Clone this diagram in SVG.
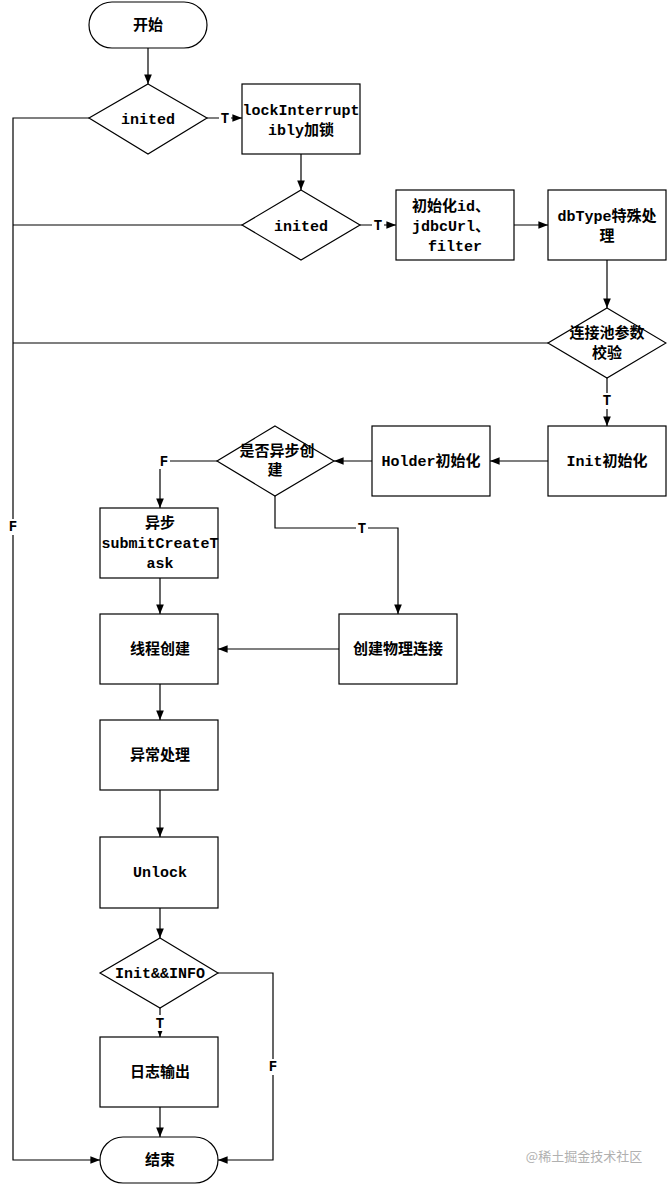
<svg xmlns="http://www.w3.org/2000/svg" width="667" height="1185" viewBox="0 0 667 1185">
<style>
.s{fill:#fff;stroke:#000;stroke-width:1.2}
.l{fill:none;stroke:#000;stroke-width:1.2}
text{font-family:"Liberation Mono","Noto Sans CJK SC",monospace;font-size:15px;font-weight:bold;text-anchor:middle;fill:#000}
.lb{font-size:14px}
</style>
<defs><marker id="a" viewBox="0 0 10 10" refX="10" refY="5" markerWidth="8" markerHeight="8" orient="auto"><path d="M0,1 L10,5 L0,9 z" fill="#000"/></marker></defs>
<rect width="667" height="1185" fill="#fff"/>
<g id="connectors">
<path class="l" d="M148,48 V84" marker-end="url(#a)"/>
<path class="l" d="M207,118 H242" marker-end="url(#a)"/>
<path class="l" d="M301,154 V190" marker-end="url(#a)"/>
<path class="l" d="M360,225 H396" marker-end="url(#a)"/>
<path class="l" d="M514,225 H548" marker-end="url(#a)"/>
<path class="l" d="M607,260 V308" marker-end="url(#a)"/>
<path class="l" d="M607,378 V426" marker-end="url(#a)"/>
<path class="l" d="M548,461 H490" marker-end="url(#a)"/>
<path class="l" d="M372,461 H334" marker-end="url(#a)"/>
<path class="l" d="M217,461 H160 V508" marker-end="url(#a)"/>
<path class="l" d="M275,496 V528 H398 V614" marker-end="url(#a)"/>
<path class="l" d="M160,578 V614" marker-end="url(#a)"/>
<path class="l" d="M339,649 H218" marker-end="url(#a)"/>
<path class="l" d="M160,684 V720" marker-end="url(#a)"/>
<path class="l" d="M160,790 V837" marker-end="url(#a)"/>
<path class="l" d="M160,908 V938" marker-end="url(#a)"/>
<path class="l" d="M160,1008 V1037" marker-end="url(#a)"/>
<path class="l" d="M160,1107 V1137" marker-end="url(#a)"/>
<path class="l" d="M218,973 H273 V1160 H218" marker-end="url(#a)"/>
<path class="l" d="M89,118 H13 V1160 H100" marker-end="url(#a)"/>
<path class="l" d="M242,225 H13"/>
<path class="l" d="M548,343 H13"/>
<g class="lb">
<rect x="219" y="110" width="12" height="16" fill="#fff"/><text x="225" y="123" class="lb">T</text>
<rect x="372" y="217" width="12" height="16" fill="#fff"/><text x="378" y="230" class="lb">T</text>
<rect x="601" y="393" width="12" height="16" fill="#fff"/><text x="607" y="405" class="lb">T</text>
<rect x="158" y="453" width="12" height="16" fill="#fff"/><text x="164" y="466" class="lb">F</text>
<rect x="356" y="520" width="12" height="16" fill="#fff"/><text x="362" y="533" class="lb">T</text>
<rect x="154" y="1015" width="12" height="16" fill="#fff"/><text x="160" y="1028" class="lb">T</text>
<rect x="7" y="519" width="12" height="16" fill="#fff"/><text x="13" y="531" class="lb">F</text>
<rect x="267" y="1059" width="12" height="16" fill="#fff"/><text x="273" y="1071" class="lb">F</text>
</g>
</g>
<g id="start"><rect class="s" x="89" y="2" width="118" height="46" rx="23"/><text x="148" y="30">开始</text></g>
<g id="inited1"><path class="s" d="M148,84 L207,118 L148,154 L89,118 Z"/><text x="148" y="124">inited</text></g>
<g id="lock"><rect class="s" x="242" y="84" width="118" height="70"/><text x="301" y="115">lockInterrupt</text><text x="301" y="135">ibly加锁</text></g>
<g id="inited2"><path class="s" d="M301,190 L360,225 L301,260 L242,225 Z"/><text x="301" y="231">inited</text></g>
<g id="initid"><rect class="s" x="396" y="190" width="118" height="70"/><text x="451" y="211">初始化id、</text><text x="451" y="231">jdbcUrl、</text><text x="455" y="251">filter</text></g>
<g id="dbtype"><rect class="s" x="548" y="190" width="118" height="70"/><text x="607" y="221">dbType特殊处</text><text x="607" y="241">理</text></g>
<g id="check"><path class="s" d="M607,308 L666,343 L607,378 L548,343 Z"/><text x="607" y="338">连接池参数</text><text x="607" y="358">校验</text></g>
<g id="init"><rect class="s" x="548" y="426" width="118" height="70"/><text x="607" y="466">Init初始化</text></g>
<g id="holder"><rect class="s" x="372" y="426" width="118" height="70"/><text x="431" y="466">Holder初始化</text></g>
<g id="async"><path class="s" d="M275,426 L334,461 L275,496 L217,461 Z"/><text x="277" y="456">是否异步创</text><text x="275" y="475">建</text></g>
<g id="submit"><rect class="s" x="100" y="508" width="118" height="70"/><text x="160" y="528">异步</text><text x="160" y="548">submitCreateT</text><text x="160" y="568">ask</text></g>
<g id="thread"><rect class="s" x="100" y="614" width="118" height="70"/><text x="160" y="654">线程创建</text></g>
<g id="phys"><rect class="s" x="339" y="614" width="118" height="70"/><text x="398" y="654">创建物理连接</text></g>
<g id="exc"><rect class="s" x="100" y="720" width="118" height="70"/><text x="160" y="760">异常处理</text></g>
<g id="unlock"><rect class="s" x="100" y="837" width="118" height="71"/><text x="160" y="877">Unlock</text></g>
<g id="info"><path class="s" d="M160,938 L218,973 L160,1008 L100,973 Z"/><text x="160" y="978">Init&amp;&amp;INFO</text></g>
<g id="log"><rect class="s" x="100" y="1037" width="118" height="70"/><text x="160" y="1077">日志输出</text></g>
<g id="end"><rect class="s" x="100" y="1137" width="118" height="46" rx="23"/><text x="160" y="1165">结束</text></g>
<text x="584" y="1161" style="font-size:13px;font-weight:normal;fill:#b0b0b0;font-family:'Noto Sans CJK SC',sans-serif">@稀土掘金技术社区</text>
</svg>
